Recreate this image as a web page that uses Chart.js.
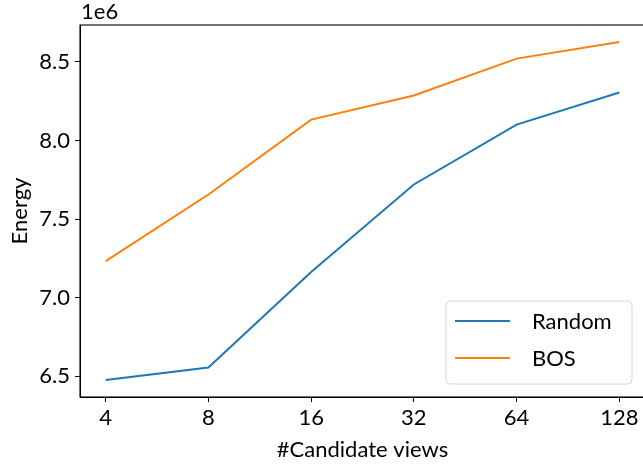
<!DOCTYPE html>
<html>
<head>
<meta charset="utf-8">
<script src="https://cdn.jsdelivr.net/npm/chart.js@4"></script>
<style>
  html, body { margin: 0; padding: 0; background: #fff; overflow: hidden; }
  #wrap { width: 643px; height: 465px; overflow: hidden; position: relative; }
  canvas { display: block; }
</style>
</head>
<body>
<div id="wrap"><canvas id="c" width="648" height="465" style="width:648px;height:465px"></canvas></div>
<script>
const candidateViews = [4, 8, 16, 32, 64, 128];
const randomEnergy = [6475000, 6555000, 7163000, 7720000, 8101000, 8305000];
const bosEnergy    = [7232000, 7656000, 8133000, 8286000, 8521000, 8627000];
const yTicks = [6.5e6, 7.0e6, 7.5e6, 8.0e6, 8.5e6];
const seriesNames = ['Random', 'BOS'];
const seriesColors = ['#1f77b4', '#ff7f0e'];
const xTitle = '#Candidate views';
const yTitle = 'Energy';
const offsetText = '1e6';

const FONT = 'Lato, "Open Sans", sans-serif';
const FS = 22;

const frame = {
  id: 'frame',
  afterDraw(chart) {
    const {ctx, chartArea: a} = chart;
    ctx.save();
    ctx.strokeStyle = '#000';
    ctx.lineWidth = 1.1;
    ctx.strokeRect(a.left, a.top, a.right - a.left, a.bottom - a.top);
    // offset text
    ctx.fillStyle = '#000';
    ctx.font = FS + 'px ' + FONT;
    ctx.textAlign = 'left';
    ctx.textBaseline = 'bottom';
    ctx.fillText(offsetText, a.left + 1, a.top - 2);
    // legend
    const bx = 446, by = 301, bw = 186, bh = 83, r = 4;
    ctx.beginPath();
    ctx.moveTo(bx + r, by);
    ctx.arcTo(bx + bw, by, bx + bw, by + bh, r);
    ctx.arcTo(bx + bw, by + bh, bx, by + bh, r);
    ctx.arcTo(bx, by + bh, bx, by, r);
    ctx.arcTo(bx, by, bx + bw, by, r);
    ctx.closePath();
    ctx.fillStyle = 'rgba(255,255,255,0.8)';
    ctx.fill();
    ctx.strokeStyle = '#d6d6d6';
    ctx.lineWidth = 1;
    ctx.stroke();
    chart.data.datasets.forEach((ds, i) => {
      const y = 321 + i * 37;
      ctx.beginPath();
      ctx.moveTo(455, y);
      ctx.lineTo(510, y);
      ctx.strokeStyle = ds.borderColor;
      ctx.lineWidth = 2;
      ctx.stroke();
      ctx.fillStyle = '#000';
      ctx.textBaseline = 'middle';
      ctx.fillText(ds.label, 532, y + 1);
    });
    ctx.restore();
  }
};

new Chart(document.getElementById('c'), {
  type: 'line',
  data: {
    datasets: [
      { label: seriesNames[0], data: candidateViews.map((v, i) => ({x: v, y: randomEnergy[i]})),
        borderColor: seriesColors[0], borderWidth: 2, pointRadius: 0, tension: 0, fill: false },
      { label: seriesNames[1], data: candidateViews.map((v, i) => ({x: v, y: bosEnergy[i]})),
        borderColor: seriesColors[1], borderWidth: 2, pointRadius: 0, tension: 0, fill: false }
    ]
  },
  options: {
    responsive: false,
    animation: false,
    devicePixelRatio: 1,
    layout: { padding: { top: 25, right: 3, left: 0, bottom: 0 } },
    plugins: { legend: { display: false }, tooltip: { enabled: false } },
    scales: {
      x: {
        type: 'logarithmic',
        min: 4 / Math.pow(2, 0.25),
        max: 128 * Math.pow(2, 0.25),
        afterBuildTicks(scale) { scale.ticks = candidateViews.map(v => ({value: v})); },
        afterFit(scale) { scale.height = 68; },
        ticks: { color: '#000', font: { family: FONT, size: FS }, padding: 3, maxRotation: 0, autoSkip: false,
          callback: v => String(v) },
        grid: { display: true, drawOnChartArea: false, drawTicks: true, tickLength: 5, color: '#000', lineWidth: 1 },
        border: { display: true, color: '#000', width: 1 },
        title: { display: true, text: xTitle, color: '#000', font: { family: FONT, size: FS }, padding: { top: 0, bottom: 2 } }
      },
      y: {
        type: 'linear',
        min: 6.367e6,
        max: 8.735e6,
        afterBuildTicks(scale) { scale.ticks = yTicks.map(v => ({value: v})); },
        afterFit(scale) { scale.width = 80; },
        ticks: { color: '#000', font: { family: FONT, size: FS }, padding: 5,
          callback: v => (v / 1e6).toFixed(1) },
        grid: { display: true, drawOnChartArea: false, drawTicks: true, tickLength: 5, color: '#000', lineWidth: 1 },
        border: { display: true, color: '#000', width: 1 },
        title: { display: true, text: yTitle, color: '#000', font: { family: FONT, size: FS }, padding: { top: 7, bottom: 0 } }
      }
    }
  },
  plugins: [frame]
});
</script>
</body>
</html>
